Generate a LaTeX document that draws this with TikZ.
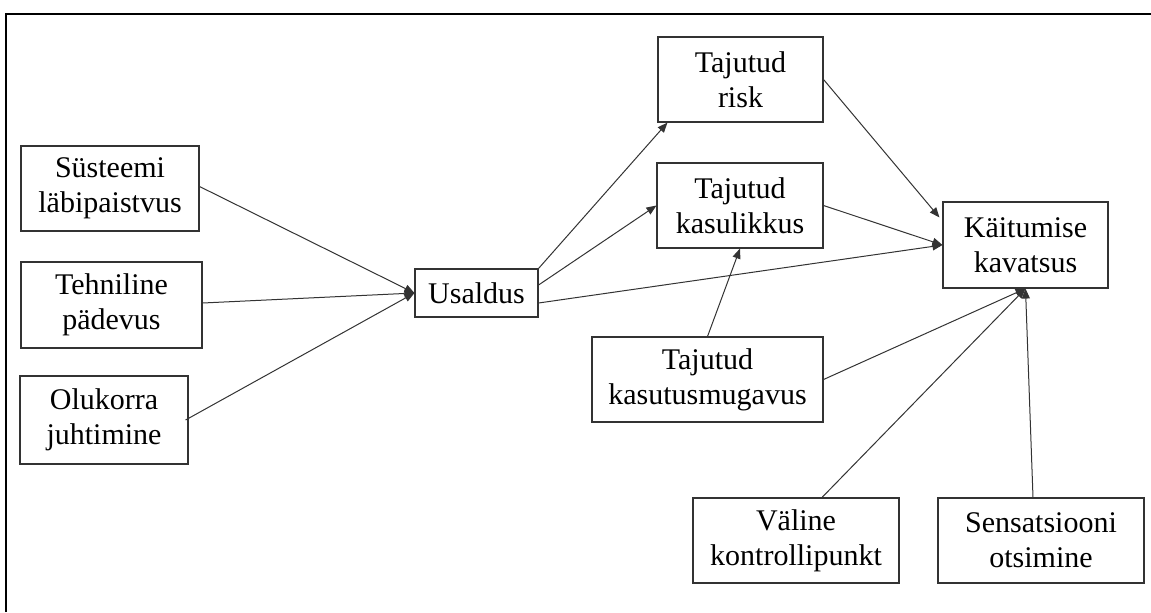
\documentclass[tikz,border=0pt]{standalone}
\usepackage{fontspec}
\setmainfont{Liberation Serif}
\usetikzlibrary{arrows.meta,calc}
\begin{document}
\begin{tikzpicture}[x=0.5pt,y=-0.5pt,
  box/.style={draw=black!80,line width=0.55pt,rectangle,inner sep=0pt,align=center,
    font=\fontsize{15}{17.5}\selectfont},
  conn/.style={draw=black!80,line width=0.5pt,-{Triangle[length=5pt,width=4pt]}}]
\useasboundingbox (0,0) rectangle (1151,612);
\draw[line width=1.1pt,black] (6,612) -- (6,14) -- (1151,14);
% boxes: name, x1,x2,y1,y2
\node[box,minimum width=89pt,minimum height=42.5pt] (S) at (110,188.5) {Süsteemi\\läbipaistvus};
\node[box,minimum width=90.5pt,minimum height=43pt] (T) at (111.5,305) {Tehniline\\pädevus};
\node[box,minimum width=84pt,minimum height=44pt] (O) at (104,420) {Olukorra\\juhtimine};
\node[box,minimum width=61.5pt,minimum height=24pt] (U) at (476.5,293) {Usaldus};
\node[box,minimum width=82.5pt,minimum height=42.5pt] (R) at (740.5,79.5) {Tajutud\\risk};
\node[box,minimum width=83pt,minimum height=42.5pt] (K) at (740,205.5) {Tajutud\\kasulikkus};
\node[box,minimum width=82.5pt,minimum height=43pt] (B) at (1025.5,245) {Käitumise\\kavatsus};
\node[box,minimum width=115.5pt,minimum height=42.5pt] (M) at (707.5,379.5) {Tajutud\\kasutusmugavus};
\node[box,minimum width=103pt,minimum height=42.5pt] (V) at (796,540.5) {Väline\\kontrollipunkt};
\node[box,minimum width=103pt,minimum height=42.5pt] (SO) at (1041,540.5) {Sensatsiooni\\otsimine};
% connectors
\draw[conn] ($(S.east)+(0,-2)$) -- (U.west);
\draw[conn] ($(T.east)+(0,-2)$) -- (U.west);
\draw[conn] ($(O.east)+(-3,0)$) -- (U.west);
\draw[conn] (U.north east) -- ($(R.south west)+(10,0)$);
\draw[conn] ($(U.east)+(0,-8)$) -- (K.west);
\draw[conn] ($(U.east)+(0,10)$) -- (B.west);
\draw[conn] (R.east) -- ($(B.north west)+(-3,16)$);
\draw[conn] (K.east) -- (B.west);
\draw[conn] (M.north) -- (K.south);
\draw[conn] (M.east) -- (B.south);
\draw[conn] ($(V.north)+(26,0)$) -- (B.south);
\draw[conn] ($(SO.north)+(-8,0)$) -- (B.south);
\end{tikzpicture}
\end{document}
